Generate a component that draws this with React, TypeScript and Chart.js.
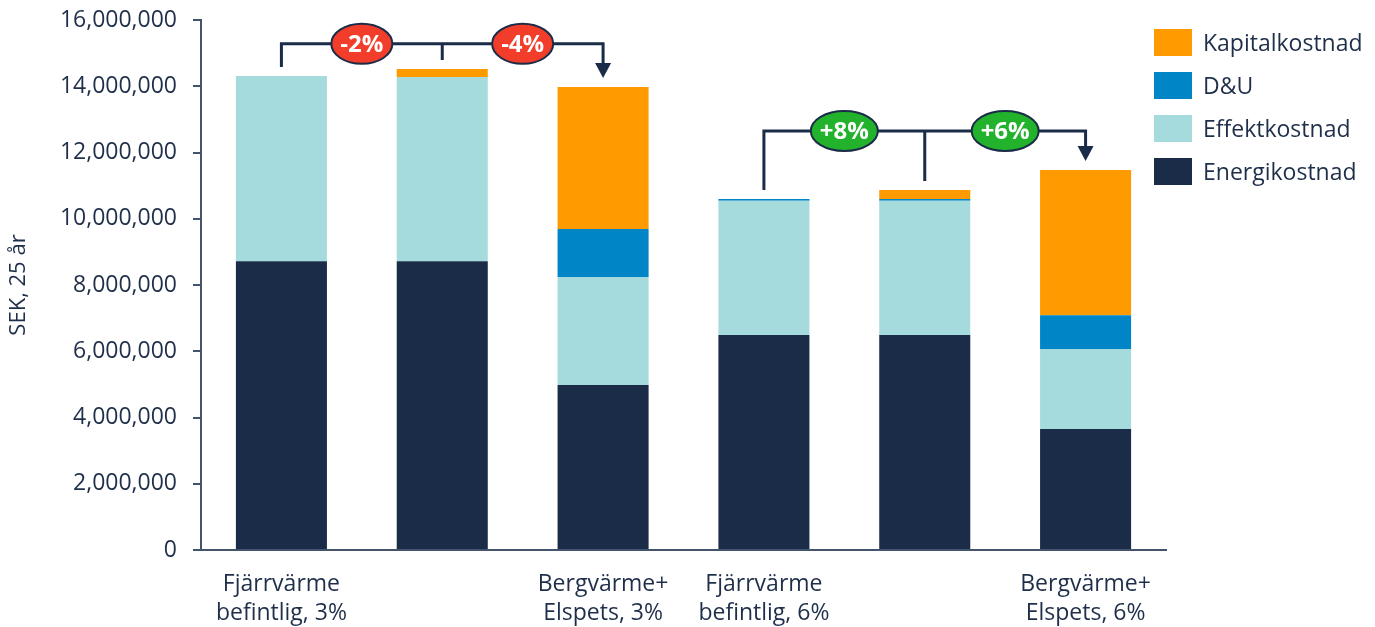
import { useEffect, useRef } from 'react'
import { Chart, registerables } from 'chart.js'

Chart.register(...registerables)

const CATEGORIES = [
  ['Fjärrvärme', 'befintlig, 3%'],
  '',
  ['Bergvärme+', 'Elspets, 3%'],
  ['Fjärrvärme', 'befintlig, 6%'],
  '',
  ['Bergvärme+', 'Elspets, 6%'],
]

const ENERGI = [8720000, 8720000, 4980000, 6490000, 6490000, 3650000]
const EFFEKT = [5590000, 5560000, 3260000, 4050000, 4050000, 2420000]
const DU = [0, 0, 1450000, 60000, 60000, 1020000]
const KAPITAL = [0, 240000, 4290000, 0, 270000, 4380000]

const Y_TICKS = [0, 2000000, 4000000, 6000000, 8000000, 10000000, 12000000, 14000000, 16000000]

// comparison brackets: start bar, middle bar, end bar, bracket level (SEK), labels
const BRACKET_FROM = [0, 3]
const BRACKET_MID = [1, 4]
const BRACKET_TO = [2, 5]
const BRACKET_LEVEL = [15280000, 12650000]
const BRACKET_LABELS = [['-2%', '-4%'], ['+8%', '+6%']]

const COLORS = {
  energi: '#1a2c47',
  effekt: '#a6dbdd',
  du: '#0086c6',
  kapital: '#ff9a00',
  text: '#1f2f4a',
  axis: '#44546a',
  red: '#f23d2a',
  green: '#22b22c',
}

const FONT = '"Open Sans", sans-serif'

const LEGEND = [
  { label: 'Kapitalkostnad', color: COLORS.kapital },
  { label: 'D&U', color: COLORS.du },
  { label: 'Effektkostnad', color: COLORS.effekt },
  { label: 'Energikostnad', color: COLORS.energi },
]

const bracketPlugin = {
  id: 'brackets',
  afterDatasetsDraw(chart: Chart) {
    const { ctx } = chart
    const x = chart.scales.x
    const y = chart.scales.y
    const totals = ENERGI.map((v, i) => v + EFFEKT[i] + DU[i] + KAPITAL[i])
    const gap = 9
    ctx.save()
    ctx.lineWidth = 3
    BRACKET_FROM.forEach((from, b) => {
      const mid = BRACKET_MID[b]
      const to = BRACKET_TO[b]
      const ly = y.getPixelForValue(BRACKET_LEVEL[b])
      const x0 = x.getPixelForValue(from)
      const x1 = x.getPixelForValue(mid)
      const x2 = x.getPixelForValue(to)
      const y0 = y.getPixelForValue(totals[from]) - gap
      const y1 = y.getPixelForValue(totals[mid]) - gap
      const y2 = y.getPixelForValue(totals[to]) - gap
      ctx.strokeStyle = COLORS.energi
      ctx.beginPath()
      ctx.moveTo(x0, y0)
      ctx.lineTo(x0, ly)
      ctx.lineTo(x2, ly)
      ctx.lineTo(x2, y2 - 14)
      ctx.moveTo(x1, ly)
      ctx.lineTo(x1, y1)
      ctx.stroke()
      ctx.fillStyle = COLORS.energi
      ctx.beginPath()
      ctx.moveTo(x2 - 8, y2 - 15)
      ctx.lineTo(x2 + 8, y2 - 15)
      ctx.lineTo(x2, y2)
      ctx.closePath()
      ctx.fill()

      const fill = BRACKET_LABELS[b][0].startsWith('+') ? COLORS.green : COLORS.red
      ctx.font = `bold 24px ${FONT}`
      ;[(x0 + x1) / 2, (x1 + x2) / 2].forEach((cx, k) => {
        const txt = BRACKET_LABELS[b][k]
        const rx = ctx.measureText(txt).width / 2 + 9
        ctx.beginPath()
        ctx.ellipse(cx, ly, rx, 20, 0, 0, Math.PI * 2)
        ctx.fillStyle = fill
        ctx.fill()
        ctx.lineWidth = 2
        ctx.strokeStyle = COLORS.energi
        ctx.stroke()
        ctx.fillStyle = '#ffffff'
        ctx.textAlign = 'center'
        ctx.textBaseline = 'middle'
        ctx.fillText(txt, cx, ly + 1)
      })
      ctx.lineWidth = 3
    })
    ctx.restore()
  },
}

export default function App() {
  const ref = useRef<HTMLCanvasElement>(null)

  useEffect(() => {
    if (!ref.current) return
    const ds = (label: string, data: number[], color: string) => ({
      label,
      data,
      backgroundColor: color,
      borderWidth: 0,
      barPercentage: 0.566,
      categoryPercentage: 1,
    })
    const chart = new Chart(ref.current, {
      type: 'bar',
      data: {
        labels: CATEGORIES,
        datasets: [
          ds('Energikostnad', ENERGI, COLORS.energi),
          ds('Effektkostnad', EFFEKT, COLORS.effekt),
          ds('D&U', DU, COLORS.du),
          ds('Kapitalkostnad', KAPITAL, COLORS.kapital),
        ],
      },
      options: {
        responsive: false,
        animation: false,
        layout: { padding: { left: 0, right: 209, top: 20, bottom: 0 } },
        plugins: {
          legend: { display: false },
          tooltip: { enabled: false },
        },
        scales: {
          x: {
            stacked: true,
            grid: { display: false },
            border: { display: true, color: COLORS.axis, width: 2 },
            ticks: {
              color: COLORS.text,
              font: { family: FONT, size: 23, lineHeight: 1.25 },
              padding: 12,
              maxRotation: 0,
              autoSkip: false,
            },
            afterFit: (scale) => {
              scale.height = 77
              scale.paddingLeft = 0
              scale.paddingRight = 0
            },
          },
          y: {
            stacked: true,
            min: 0,
            max: 16000000,
            afterBuildTicks: (scale) => { scale.ticks = Y_TICKS.map(v => ({ value: v })) },
            grid: { drawOnChartArea: false, drawTicks: true, tickLength: 8, color: COLORS.axis, lineWidth: 2 },
            border: { display: true, color: COLORS.axis, width: 2 },
            ticks: {
              color: COLORS.text,
              font: { family: FONT, size: 23 },
              padding: 16,
              callback: (v) => Number(v).toLocaleString('en-US'),
            },
            title: {
              display: true,
              text: 'SEK, 25 år',
              color: COLORS.text,
              font: { family: FONT, size: 22 },
              padding: { top: 6, bottom: 0 },
            },
            afterFit: (scale) => {
              scale.width = 201
              scale.paddingTop = 0
              scale.paddingBottom = 0
            },
          },
        },
      },
      plugins: [bracketPlugin],
    })
    return () => chart.destroy()
  }, [])

  return (
    <div style={{ position: 'fixed', left: 0, top: 0, width: 1375, height: 627, background: '#fff' }}>
      <canvas ref={ref} width={1375} height={627} style={{ width: 1375, height: 627 }} />
      <div style={{ position: 'absolute', left: 1154, top: 29, fontFamily: FONT, fontSize: 23, color: COLORS.text }}>
        {LEGEND.map(item => (
          <div key={item.label} style={{ display: 'flex', alignItems: 'center', height: 27, marginBottom: 16 }}>
            <div style={{ width: 38, height: 27, background: item.color, marginRight: 11 }} />
            <span style={{ lineHeight: '27px', whiteSpace: 'nowrap' }}>{item.label}</span>
          </div>
        ))}
      </div>
    </div>
  )
}
